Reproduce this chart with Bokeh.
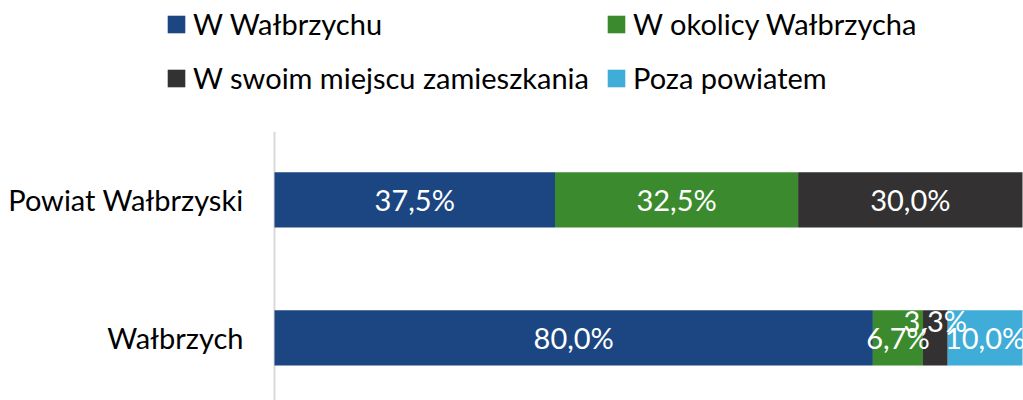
from bokeh.plotting import figure
from bokeh.layouts import column
from bokeh.models import ColumnDataSource, Legend, LegendItem, Span
from bokeh.core.properties import value
from bokeh.embed import file_html
from bokeh.resources import INLINE

categories = ["Wałbrzych", "Powiat Wałbrzyski"]
series = ["W Wałbrzychu", "W okolicy Wałbrzycha", "W swoim miejscu zamieszkania", "Poza powiatem"]
w_walbrzychu = [80.0, 37.5]
w_okolicy = [6.7, 32.5]
w_miejscu = [3.3, 30.0]
poza_powiatem = [10.0, 0.0]
colors = ["#1b4682", "#3c8a2e", "#333132", "#40acd8"]

FONT = "Lato"
FS = "29px"

keys = ["s0", "s1", "s2", "s3"]
data = {"y": list(range(len(categories))), "cat": categories,
        "s0": w_walbrzychu, "s1": w_okolicy, "s2": w_miejscu, "s3": poza_powiatem}
source = ColumnDataSource(data)

# ---- main chart (frame spans the whole width; 0..100 % occupies x 274..1022) ----
p = figure(width=1023, height=269, output_backend="svg", toolbar_location=None,
           x_range=(-36.631, 100.134), y_range=(-0.453, 1.496),
           x_axis_location=None, y_axis_location=None,
           min_border_left=0, min_border_right=0, min_border_top=0, min_border_bottom=0)
p.outline_line_color = None
p.grid.visible = False

# category axis line at 0 %
p.add_layout(Span(location=0, dimension="height", line_color="#d9d9d9", line_width=2,
                  level="underlay"))

renderers = p.hbar_stack(keys, y="y", height=0.4, color=colors, line_color=None, source=source)

# category labels (left of the axis)
p.text(x=0, y="y", text="cat", source=source, x_offset=-31, text_color="#000000",
       text_font=value(FONT), text_font_size=FS, text_align="right", text_baseline="middle")

# value labels
lx, ly, lt, loff = [], [], [], []
for i, cat in enumerate(categories):
    left = 0.0
    for vals in (w_walbrzychu, w_okolicy, w_miejscu, poza_powiatem):
        v = vals[i]
        if v > 0:
            lx.append(left + v / 2)
            ly.append(i)
            lt.append(("%.1f%%" % v).replace(".", ","))
            loff.append(-17 if v < 5 else 0)
        left += v
lsrc = ColumnDataSource(dict(x=lx, y=ly, t=lt, off=loff))
p.text(x="x", y="y", text="t", y_offset="off", source=lsrc, text_color="white",
       text_font=value(FONT), text_font_size=FS, text_align="center", text_baseline="middle")

# ---- legend strip ----
lg = figure(width=1023, height=131, output_backend="svg", toolbar_location=None,
            x_axis_location=None, y_axis_location=None,
            min_border_left=0, min_border_right=0, min_border_top=0, min_border_bottom=0)
lg.outline_line_color = None
lg.grid.visible = False
dummies = lg.hbar_stack(keys, y="y", height=0.4, color=colors, line_color=None, source=source)
for d in dummies:
    d.visible = False

def make_legend(idx, vx):
    items = [LegendItem(label=series[j], renderers=[dummies[j]]) for j in idx]
    return Legend(items=items, location=(vx, 36), orientation="vertical",
                  padding=0, margin=0, spacing=19, label_height=35, glyph_height=22,
                  glyph_width=22, label_standoff=6, border_line_color=None,
                  background_fill_alpha=0, label_text_font=FONT, label_text_font_size=FS,
                  label_text_color="#000000")

lg.add_layout(make_legend([0, 2], 165))
lg.add_layout(make_legend([1, 3], 605))

layout = column(lg, p, spacing=0)
open("out.html", "w").write(file_html(layout, INLINE))
